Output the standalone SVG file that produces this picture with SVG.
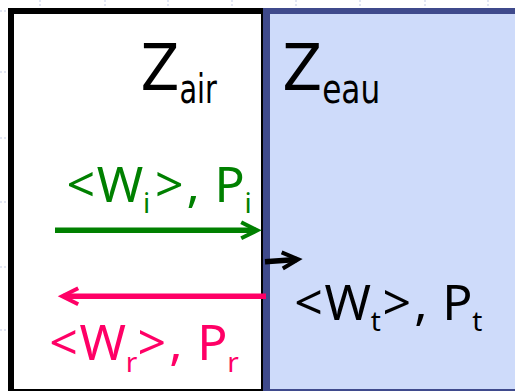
<svg xmlns="http://www.w3.org/2000/svg" width="515" height="391" viewBox="0 0 515 391">
<style>
text{font-family:"DejaVu Sans","Liberation Sans",sans-serif}
.lbl{font-family:"Noto Sans","DejaVu Sans",sans-serif;font-size:50px}
.s{font-size:28px}
.zb{font-size:64px}
.zs{font-size:40px}
.tick{stroke:#c3cbe6;stroke-width:1;stroke-dasharray:2 2}
</style>
<defs>
<marker id="ag" markerUnits="userSpaceOnUse" markerWidth="30" markerHeight="30" viewBox="-20 -15 30 30" refX="0" refY="0" orient="auto" overflow="visible">
<path d="M-14.5,-8 L1.5,0 L-14.5,8" fill="none" stroke="#008000" stroke-width="4"/>
</marker>
<marker id="ap" markerUnits="userSpaceOnUse" markerWidth="30" markerHeight="30" viewBox="-20 -15 30 30" refX="0" refY="0" orient="auto" overflow="visible">
<path d="M-14.5,-8 L1.5,0 L-14.5,8" fill="none" stroke="#ff0066" stroke-width="4"/>
</marker>
<marker id="ak" markerUnits="userSpaceOnUse" markerWidth="30" markerHeight="30" viewBox="-20 -15 30 30" refX="0" refY="0" orient="auto" overflow="visible">
<path d="M-14.5,-8 L1.5,0 L-14.5,8" fill="none" stroke="#000000" stroke-width="4"/>
</marker>
</defs>
<rect width="515" height="391" fill="#ffffff"/>
<g id="ticks">
<line class="tick" x1="40" y1="0" x2="40" y2="8"/>
<line class="tick" x1="105" y1="0" x2="105" y2="8"/>
<line class="tick" x1="168" y1="0" x2="168" y2="8"/>
<line class="tick" x1="232" y1="0" x2="232" y2="8"/>
<line class="tick" x1="296" y1="0" x2="296" y2="8"/>
<line class="tick" x1="360" y1="0" x2="360" y2="8"/>
<line class="tick" x1="425" y1="0" x2="425" y2="8"/>
<line class="tick" x1="488" y1="0" x2="488" y2="8"/>
<line class="tick" x1="0" y1="11" x2="8" y2="11"/>
<line class="tick" x1="0" y1="72" x2="8" y2="72"/>
<line class="tick" x1="0" y1="138" x2="8" y2="138"/>
<line class="tick" x1="0" y1="202" x2="8" y2="202"/>
<line class="tick" x1="0" y1="267" x2="8" y2="267"/>
<line class="tick" x1="0" y1="330" x2="8" y2="330"/>
</g>
<g id="air">
<rect x="8" y="8" width="255" height="383" fill="#ffffff"/>
<rect x="8" y="8" width="6" height="383" fill="#000000"/>
<rect x="8" y="8" width="255" height="6" fill="#000000"/>
<rect x="8" y="389" width="255" height="2" fill="#000000"/>
<rect x="261" y="8" width="2" height="383" fill="#000000"/>
<text x="140.8" y="90" class="zb" textLength="38.5" lengthAdjust="spacingAndGlyphs">Z</text>
<text x="179.4" y="103.3" class="zs" textLength="37.5" lengthAdjust="spacingAndGlyphs">air</text>
</g>
<g id="eau">
<rect x="263" y="8" width="252" height="383" fill="#cedbfa"/>
<rect x="263" y="8" width="252" height="6" fill="#3f4a8c"/>
<rect x="263" y="8" width="7" height="383" fill="#3f4a8c"/>
<rect x="263" y="389" width="252" height="2" fill="#3f4a8c"/>
<text x="282.6" y="90" class="zb" textLength="39.5" lengthAdjust="spacingAndGlyphs">Z</text>
<text x="322.2" y="103.3" class="zs" textLength="58" lengthAdjust="spacingAndGlyphs">eau</text>
</g>
<g id="connectors">
<line x1="55" y1="230.3" x2="255.7" y2="230.3" stroke="#008000" stroke-width="5.5" marker-end="url(#ag)"/>
<line x1="266" y1="296.3" x2="63.7" y2="296.3" stroke="#ff0066" stroke-width="5.5" marker-end="url(#ap)"/>
<line x1="265" y1="261.7" x2="296.7" y2="259.4" stroke="#000000" stroke-width="5.5" marker-end="url(#ak)"/>
</g>
<g id="label-incident" fill="#008000">
<text class="lbl"><tspan x="66.6" y="201.5">&lt;</tspan><tspan x="96.7" y="201.5">W</tspan><tspan class="s" x="143" y="213">i</tspan><tspan x="154.9" y="201.5">&gt;</tspan><tspan x="186.5" y="201.5">,</tspan><tspan x="214.5" y="201.5">P</tspan><tspan class="s" x="244.6" y="213">i</tspan></text>
</g>
<g id="label-reflected" fill="#ff0066">
<text class="lbl"><tspan x="49.3" y="360">&lt;</tspan><tspan x="79.4" y="360">W</tspan><tspan class="s" x="125.7" y="371.5">r</tspan><tspan x="137.6" y="360">&gt;</tspan><tspan x="169.2" y="360">,</tspan><tspan x="197.2" y="360">P</tspan><tspan class="s" x="227.3" y="371.5">r</tspan></text>
</g>
<g id="label-transmitted" fill="#000000">
<text class="lbl"><tspan x="294.3" y="319.5">&lt;</tspan><tspan x="324.4" y="319.5">W</tspan><tspan class="s" x="370.7" y="331">t</tspan><tspan x="382.6" y="319.5">&gt;</tspan><tspan x="414.2" y="319.5">,</tspan><tspan x="442.2" y="319.5">P</tspan><tspan class="s" x="472.3" y="331">t</tspan></text>
</g>
</svg>
